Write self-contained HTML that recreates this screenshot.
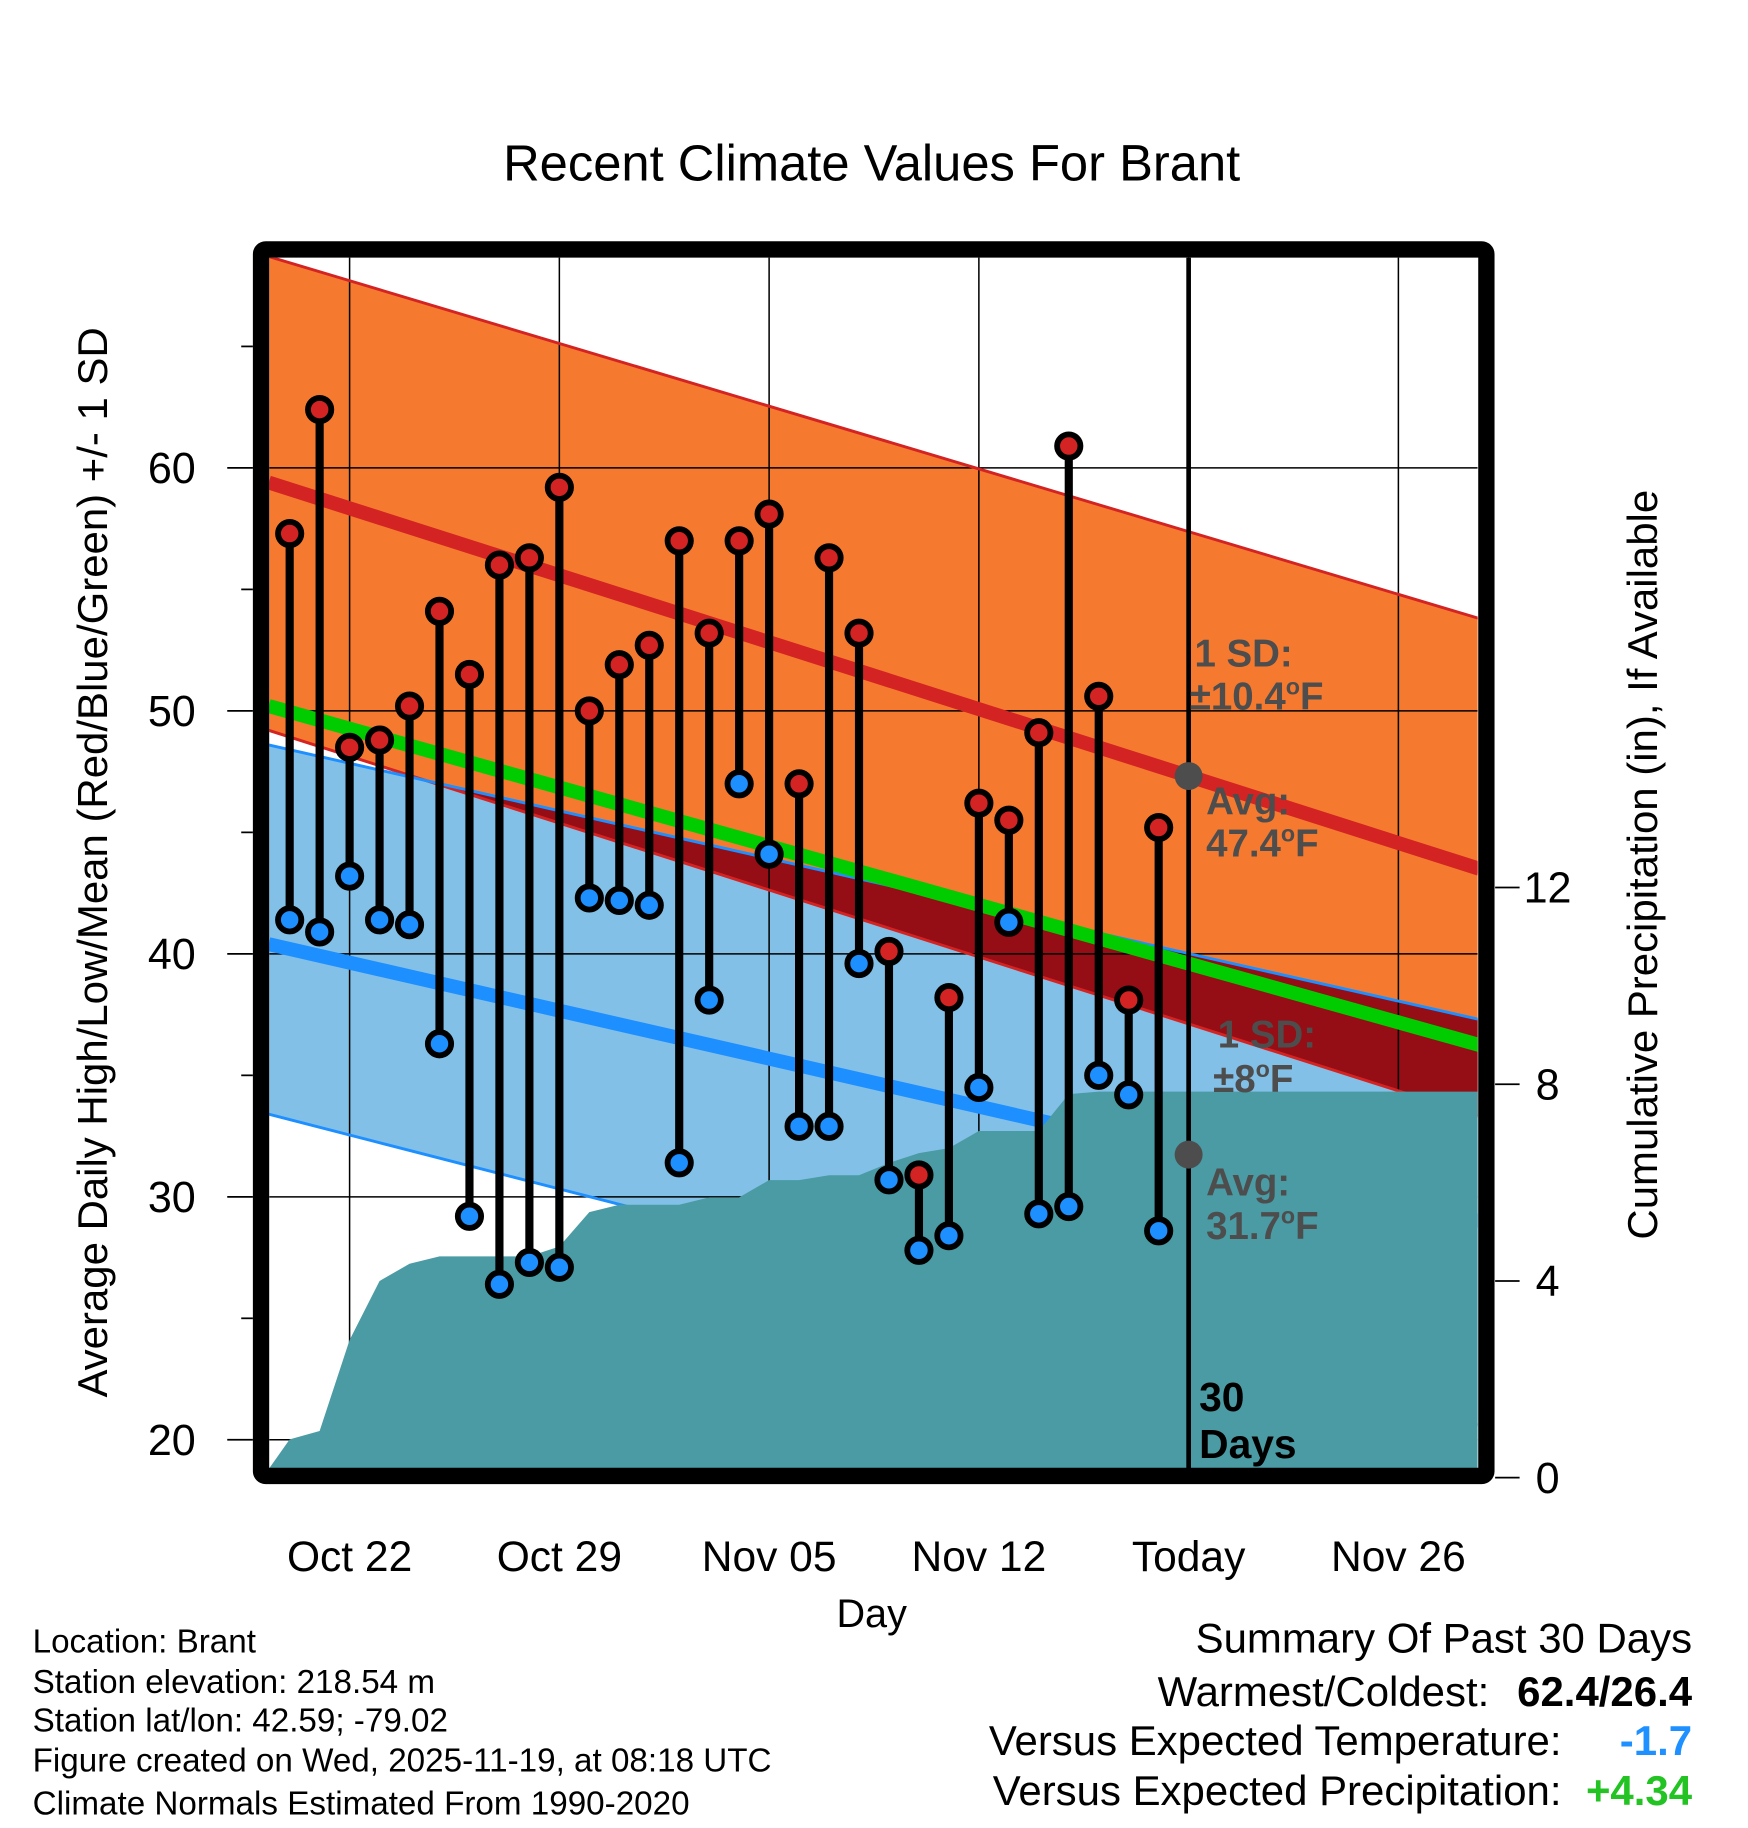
<!DOCTYPE html>
<html><head><meta charset="utf-8"><style>
html,body{margin:0;padding:0;background:#fff}
svg{display:block;font-family:"Liberation Sans",Arial,sans-serif}
</style></head><body>
<svg id="chart" width="1748" height="1828" viewBox="0 0 1500 1568.6" xmlns="http://www.w3.org/2000/svg">
<defs><clipPath id="plotclip"><rect x="231" y="221" width="1037" height="1039"/></clipPath>
<clipPath id="orangeclip"><polygon id="orangeClipPoly" points=""/></clipPath></defs>
<text x="748" y="155" font-size="43.5" text-anchor="middle">Recent Climate Values For Brant</text>
<g id="plot" clip-path="url(#plotclip)"></g>
<g id="overlay"></g>
<rect x="224" y="214" width="1051.5" height="1052.5" fill="none" stroke="#000" stroke-width="14" rx="4"/>
<g id="axes"></g>
<text x="748" y="1396" font-size="34" text-anchor="middle">Day</text>
<text transform="translate(92,740) rotate(-90)" font-size="36" text-anchor="middle">Average Daily High/Low/Mean (Red/Blue/Green) +/- 1 SD</text>
<text transform="translate(1422,742) rotate(-90)" font-size="36" text-anchor="middle">Cumulative Precipitation (in), If Available</text>
<g font-size="28.5">
<text x="28" y="1418">Location: Brant</text>
<text x="28" y="1453">Station elevation: 218.54 m</text>
<text x="28" y="1486">Station lat/lon: 42.59; -79.02</text>
<text x="28" y="1520">Figure created on Wed, 2025-11-19, at 08:18 UTC</text>
<text x="28" y="1557">Climate Normals Estimated From 1990-2020</text>
</g>
<g font-size="36">
<text x="1452" y="1418" text-anchor="end">Summary Of Past 30 Days</text>
<text x="1278" y="1464" text-anchor="end">Warmest/Coldest:</text>
<text x="1452" y="1464" text-anchor="end" font-weight="bold">62.4/26.4</text>
<text x="1340" y="1506" text-anchor="end">Versus Expected Temperature:</text>
<text x="1452" y="1506" text-anchor="end" font-weight="bold" fill="#1e90ff">-1.7</text>
<text x="1340" y="1549" text-anchor="end">Versus Expected Precipitation:</text>
<text x="1452" y="1549" text-anchor="end" font-weight="bold" fill="#22c322">+4.34</text>
</g>
</svg>
<script>
// ---- data ----
const highs = [57.3,62.4,48.5,48.8,50.2,54.1,51.5,56.0,56.3,59.2,50.0,51.9,52.7,57.0,53.2,57.0,58.1,47.0,56.3,53.2,40.1,30.9,38.2,46.2,45.5,49.1,60.9,50.6,38.1,45.2];
const lows = [41.4,40.9,43.2,41.4,41.2,36.3,29.2,26.4,27.3,27.1,42.3,42.2,42.0,31.4,38.1,47.0,44.1,32.9,32.9,39.6,30.7,27.8,28.4,34.5,41.3,29.3,29.6,35.0,34.2,28.6];
const precip = [0.78,0.95,2.8,4.0,4.35,4.5,4.5,4.5,4.5,4.7,5.4,5.55,5.55,5.55,5.7,5.7,6.05,6.05,6.15,6.15,6.4,6.6,6.7,7.05,7.05,7.05,7.8,7.85,7.85,7.85];
const normDays = [-2.7, 37.7];
const normHigh = [59.4, 43.5];
const highUpper = [68.7, 53.8];
const highLower = [49.2, 33.3];
const normLow = [40.4, 29.0];
const lowUpper = [48.6, 37.3];
const lowLower = [33.4, 20.6];
const xTickDays = [0,7,14,21,28,35];
const xTickLabels = ["Oct 22","Oct 29","Nov 05","Nov 12","Today","Nov 26"];
const yTicks = [20,30,40,50,60];
const yMinor = [25,35,45,55,65];
const pTicks = [0,4,8,12];
const todayDay = 28;
const days = []; for (let i=0;i<30;i++) days.push(i-2);

const NS="http://www.w3.org/2000/svg";
const X = d => 300 + d*25.714;
const Y = t => 610 - (t-50)*20.85;
const P = p => 1268 - p*42.2;
function mk(tag, attrs, parent){const e=document.createElementNS(NS,tag);for(const k in attrs)e.setAttribute(k,attrs[k]);parent.appendChild(e);return e;}
const plot=document.getElementById('plot'), ov=document.getElementById('overlay'), ax=document.getElementById('axes');
const at=(arr,d)=>arr[0]+(arr[1]-arr[0])*(d-normDays[0])/(normDays[1]-normDays[0]);
function linePts(arr){return normDays.map(d=>X(d)+','+Y(at(arr,d))).join(' ');}
function bandPts(up,lo){const a=normDays.map(d=>X(d)+','+Y(at(up,d)));const b=normDays.slice().reverse().map(d=>X(d)+','+Y(at(lo,d)));return a.concat(b).join(' ');}

let e;
e=mk('polygon',{points:bandPts(highUpper,highLower),fill:'#f57a2f'},plot);


document.getElementById('orangeClipPoly').setAttribute('points',bandPts(highUpper,highLower));
e=mk('polygon',{points:bandPts(lowUpper,lowLower),fill:'#82c0e7'},plot);


e=mk('polygon',{points:bandPts(lowUpper,lowLower),fill:'#950d15','clip-path':'url(#orangeclip)'},plot);


xTickDays.forEach(d=>{e=mk('line',{x1:X(d),x2:X(d),y1:180,y2:1300,stroke:'#000','stroke-width':1.3},plot);

});
yTicks.forEach(t=>{e=mk('line',{x1:231,x2:1268,y1:Y(t),y2:Y(t),stroke:'#000','stroke-width':1.3},plot);

});
[[highUpper,'#d42323'],[highLower,'#d42323'],[lowUpper,'#1e8fff'],[lowLower,'#1e8fff']].forEach(([a,c])=>{
e=mk('polyline',{points:linePts(a),fill:'none',stroke:c,'stroke-width':2.5},plot);

});
const meanArr=[(normHigh[0]+normLow[0])/2+0.3,(normHigh[1]+normLow[1])/2];
e=mk('polyline',{points:linePts(normHigh),fill:'none',stroke:'#d42323','stroke-width':12},plot);


e=mk('polyline',{points:linePts(normLow),fill:'none',stroke:'#1e8fff','stroke-width':12},plot);


e=mk('polyline',{points:linePts(meanArr),fill:'none',stroke:'#00cc00','stroke-width':12},plot);


let pp=['231,1268','231,'+P(0.19)];
days.forEach((d,i)=>pp.push(X(d)+','+P(precip[i])));
pp.push('1268,'+P(precip[precip.length-1]));pp.push('1268,1268');
e=mk('polygon',{points:pp.join(' '),fill:'#4a9ba4'},plot);


e=mk('line',{x1:X(todayDay),x2:X(todayDay),y1:221,y2:1260,stroke:'#000','stroke-width':4},plot);


[normHigh,normLow].forEach(a=>{e=mk('circle',{cx:X(todayDay),cy:Y(at(a,todayDay)),r:12,fill:'#4d4d4d'},plot);

});
function lab(x,y,txt,sup){const t=mk('text',{x:x,y:y,'font-size':33,'font-weight':'bold',fill:'#4d4d4d'},ov);


if(sup){const parts=txt.split('°');t.appendChild(document.createTextNode(parts[0]));const s=mk('tspan',{'font-size':20,dy:-13},t);s.textContent='o';const f=mk('tspan',{dy:13},t);f.textContent=parts[1];}else t.textContent=txt;}
lab(1025,572,'1 SD:');lab(1021,609,'±10.4°F',1);lab(1035,699,'Avg:');lab(1035,735,'47.4°F',1);
lab(1045,899,'1 SD:');lab(1041,937,'±8°F',1);lab(1035,1026,'Avg:');lab(1035,1063,'31.7°F',1);
['30','Days'].forEach((s,i)=>{const t=mk('text',{x:1029,y:1211+i*40,'font-size':35,'font-weight':'bold'},ov);t.textContent=s;

});
days.forEach((d,i)=>{
 e=mk('line',{x1:X(d),x2:X(d),y1:Y(highs[i]),y2:Y(lows[i]),stroke:'#000','stroke-width':7},ov);
 
 
 e=mk('circle',{cx:X(d),cy:Y(highs[i]),r:10,fill:'#d42323',stroke:'#000','stroke-width':5},ov);
 
 
 e=mk('circle',{cx:X(d),cy:Y(lows[i]),r:10,fill:'#1e8fff',stroke:'#000','stroke-width':5},ov);
 
 
});
yTicks.forEach(t=>{e=mk('line',{x1:195,x2:217,y1:Y(t),y2:Y(t),stroke:'#000','stroke-width':1.5},ax);


const tx=mk('text',{x:168,y:Y(t)+13,'font-size':37,'text-anchor':'end'},ax);tx.textContent=t;

});
yMinor.forEach(t=>{e=mk('line',{x1:207,x2:217,y1:Y(t),y2:Y(t),stroke:'#000','stroke-width':1.5},ax);

});
pTicks.forEach(p=>{e=mk('line',{x1:1283,x2:1304,y1:P(p),y2:P(p),stroke:'#000','stroke-width':1.5},ax);


const tx=mk('text',{x:1328,y:P(p)+13,'font-size':37,'text-anchor':'middle'},ax);tx.textContent=p;

});
xTickDays.forEach((d,i)=>{const tx=mk('text',{x:X(d),y:1348,'font-size':36.5,'text-anchor':'middle'},ax);tx.textContent=xTickLabels[i];

});
</script>
</body></html>
